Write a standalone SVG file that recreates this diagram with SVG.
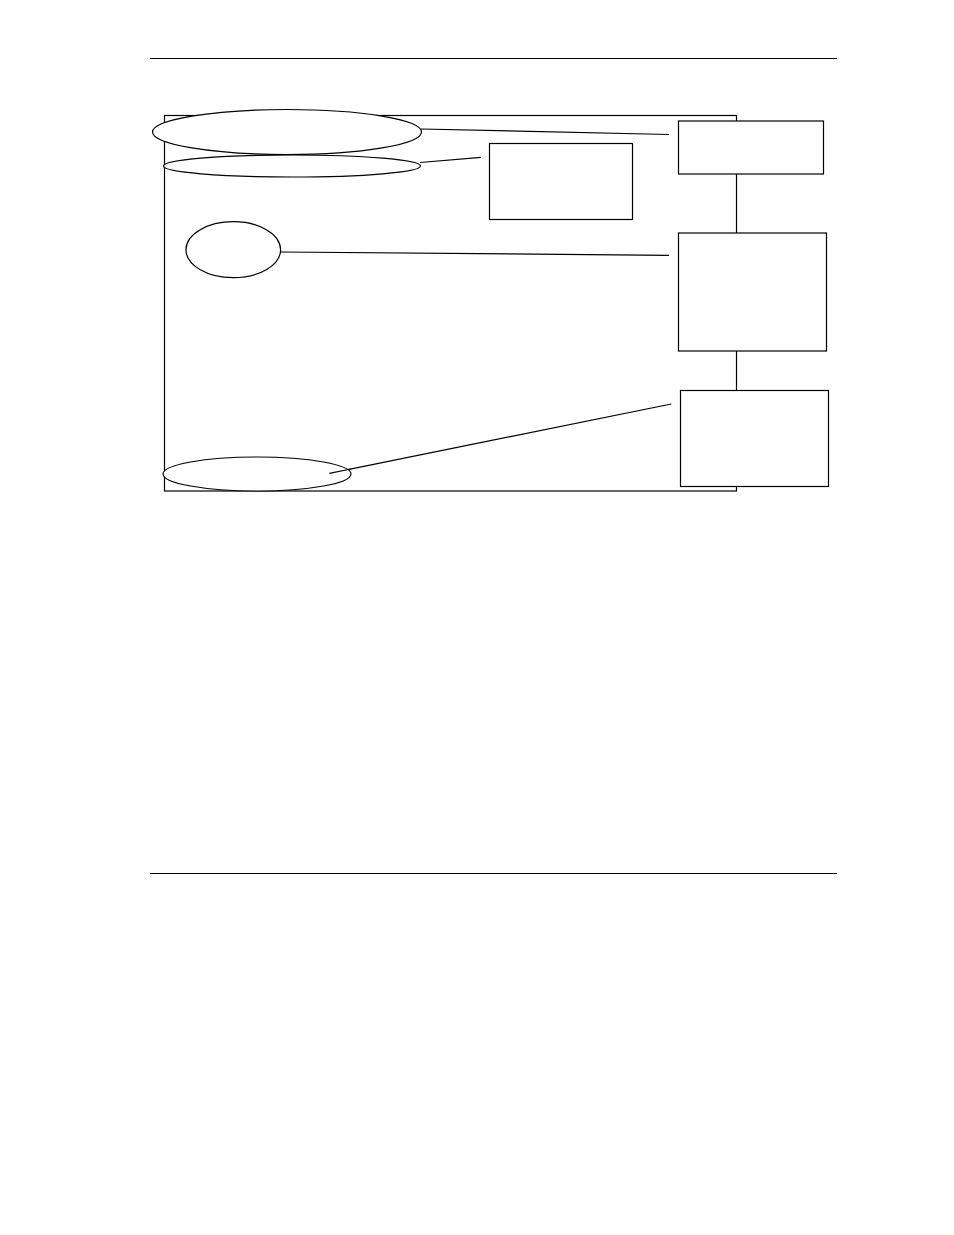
<svg xmlns="http://www.w3.org/2000/svg" width="954" height="1235" viewBox="0 0 954 1235">
<style>
.s{fill:#fff;stroke:#000;stroke-width:1.2}
.l{fill:none;stroke:#000;stroke-width:1.2}
</style>
<rect width="954" height="1235" fill="#fff"/>
<g id="page-rules">
<line class="l" x1="150" y1="58.5" x2="837" y2="58.5"/>
<line class="l" x1="150" y1="873.5" x2="837" y2="873.5"/>
</g>
<g id="frame"><rect class="l" x="164.5" y="115.5" width="572" height="375.5"/></g>
<g id="connectors">
<line class="l" x1="421" y1="129" x2="669" y2="134.5"/>
<line class="l" x1="420" y1="162.5" x2="481" y2="157.3"/>
<line class="l" x1="280.5" y1="252" x2="669" y2="255.3"/>
<line class="l" x1="329.3" y1="473.3" x2="671.3" y2="404"/>
</g>
<g id="ellipse1"><ellipse class="s" cx="287" cy="132" rx="134.5" ry="22.5"/></g>
<g id="ellipse2"><ellipse class="s" cx="292" cy="166" rx="128.5" ry="11"/></g>
<g id="ellipse3"><ellipse class="s" cx="233.3" cy="249.7" rx="47.3" ry="28"/></g>
<g id="ellipse4"><ellipse class="s" cx="257" cy="474" rx="94" ry="17"/></g>
<line class="l" x1="329.3" y1="473.3" x2="351" y2="469"/>
<g id="boxA"><rect class="s" x="489.5" y="143.5" width="143" height="76"/></g>
<g id="boxB"><rect class="s" x="678.5" y="121" width="145" height="53"/></g>
<g id="boxC"><rect class="s" x="678.5" y="233" width="148" height="118"/></g>
<g id="boxD"><rect class="s" x="680.5" y="390.5" width="148" height="96"/></g>
</svg>
